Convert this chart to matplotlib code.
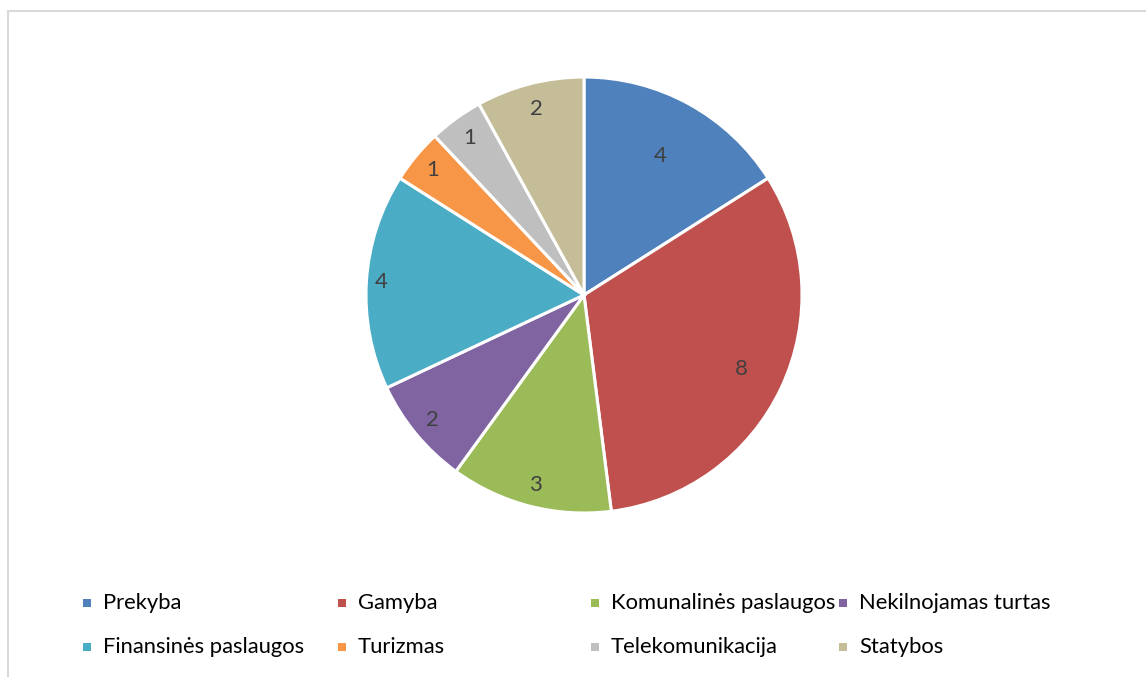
import numpy as np
import matplotlib
matplotlib.use("Agg")
import matplotlib.pyplot as plt
from matplotlib.patches import Rectangle

categories = ["Prekyba", "Gamyba", "Komunalinės paslaugos", "Nekilnojamas turtas",
              "Finansinės paslaugos", "Turizmas", "Telekomunikacija", "Statybos"]
values = [4, 8, 3, 2, 4, 1, 1, 2]
colors = ["#4F81BD", "#C0504D", "#9BBB59", "#8064A2",
          "#4BACC6", "#F79646", "#BFBFBF", "#C4BD97"]
# radial position of each value label, as a fraction of the radius
label_r = [0.73, 0.80, 0.90, 0.90, 0.93, 0.90, 0.89, 0.88]

plt.rcParams["font.family"] = ["Lato", "DejaVu Sans"]

W, H = 1146, 677
fig = plt.figure(figsize=(W / 100, H / 100), dpi=100)

# light chart frame
frame = Rectangle((8 / W, -0.01), 1.2, 1 - 10.5 / H + 0.01, transform=fig.transFigure,
                  fill=False, edgecolor="#D9D9D9", linewidth=1.5)
fig.patches.append(frame)

cx, cy, R = 584, 295, 218
ax = fig.add_axes([(cx - R) / W, 1 - (cy + R) / H, 2 * R / W, 2 * R / H])
wedges, _ = ax.pie(values, colors=colors, startangle=90, counterclock=False,
                   wedgeprops=dict(edgecolor="white", linewidth=2.2),
                   radius=1.0)
ax.set_xlim(-1, 1)
ax.set_ylim(-1, 1)
ax.set_aspect("auto")
ax.axis("off")

for w, v, fr in zip(wedges, values, label_r):
    ang = np.deg2rad((w.theta1 + w.theta2) / 2)
    ax.text(fr * np.cos(ang), fr * np.sin(ang), str(v), ha="center", va="center",
            fontsize=16, color="#404040")

# legend: two rows of four entries
col_x = [87, 342, 595, 843]
row_y = [603, 647]
for i, (name, c) in enumerate(zip(categories, colors)):
    r, k = divmod(i, 4)
    x, y = col_x[k], row_y[r]
    s = 8
    fig.patches.append(Rectangle(((x - s / 2) / W, 1 - (y + s / 2) / H), s / W, s / H,
                                 transform=fig.transFigure, facecolor=c, edgecolor="none"))
    fig.text((x + 16) / W, 1 - y / H, name, ha="left", va="center",
             fontsize=15.8, color="#000000")

fig.savefig("out.png", dpi=100, facecolor="white")
